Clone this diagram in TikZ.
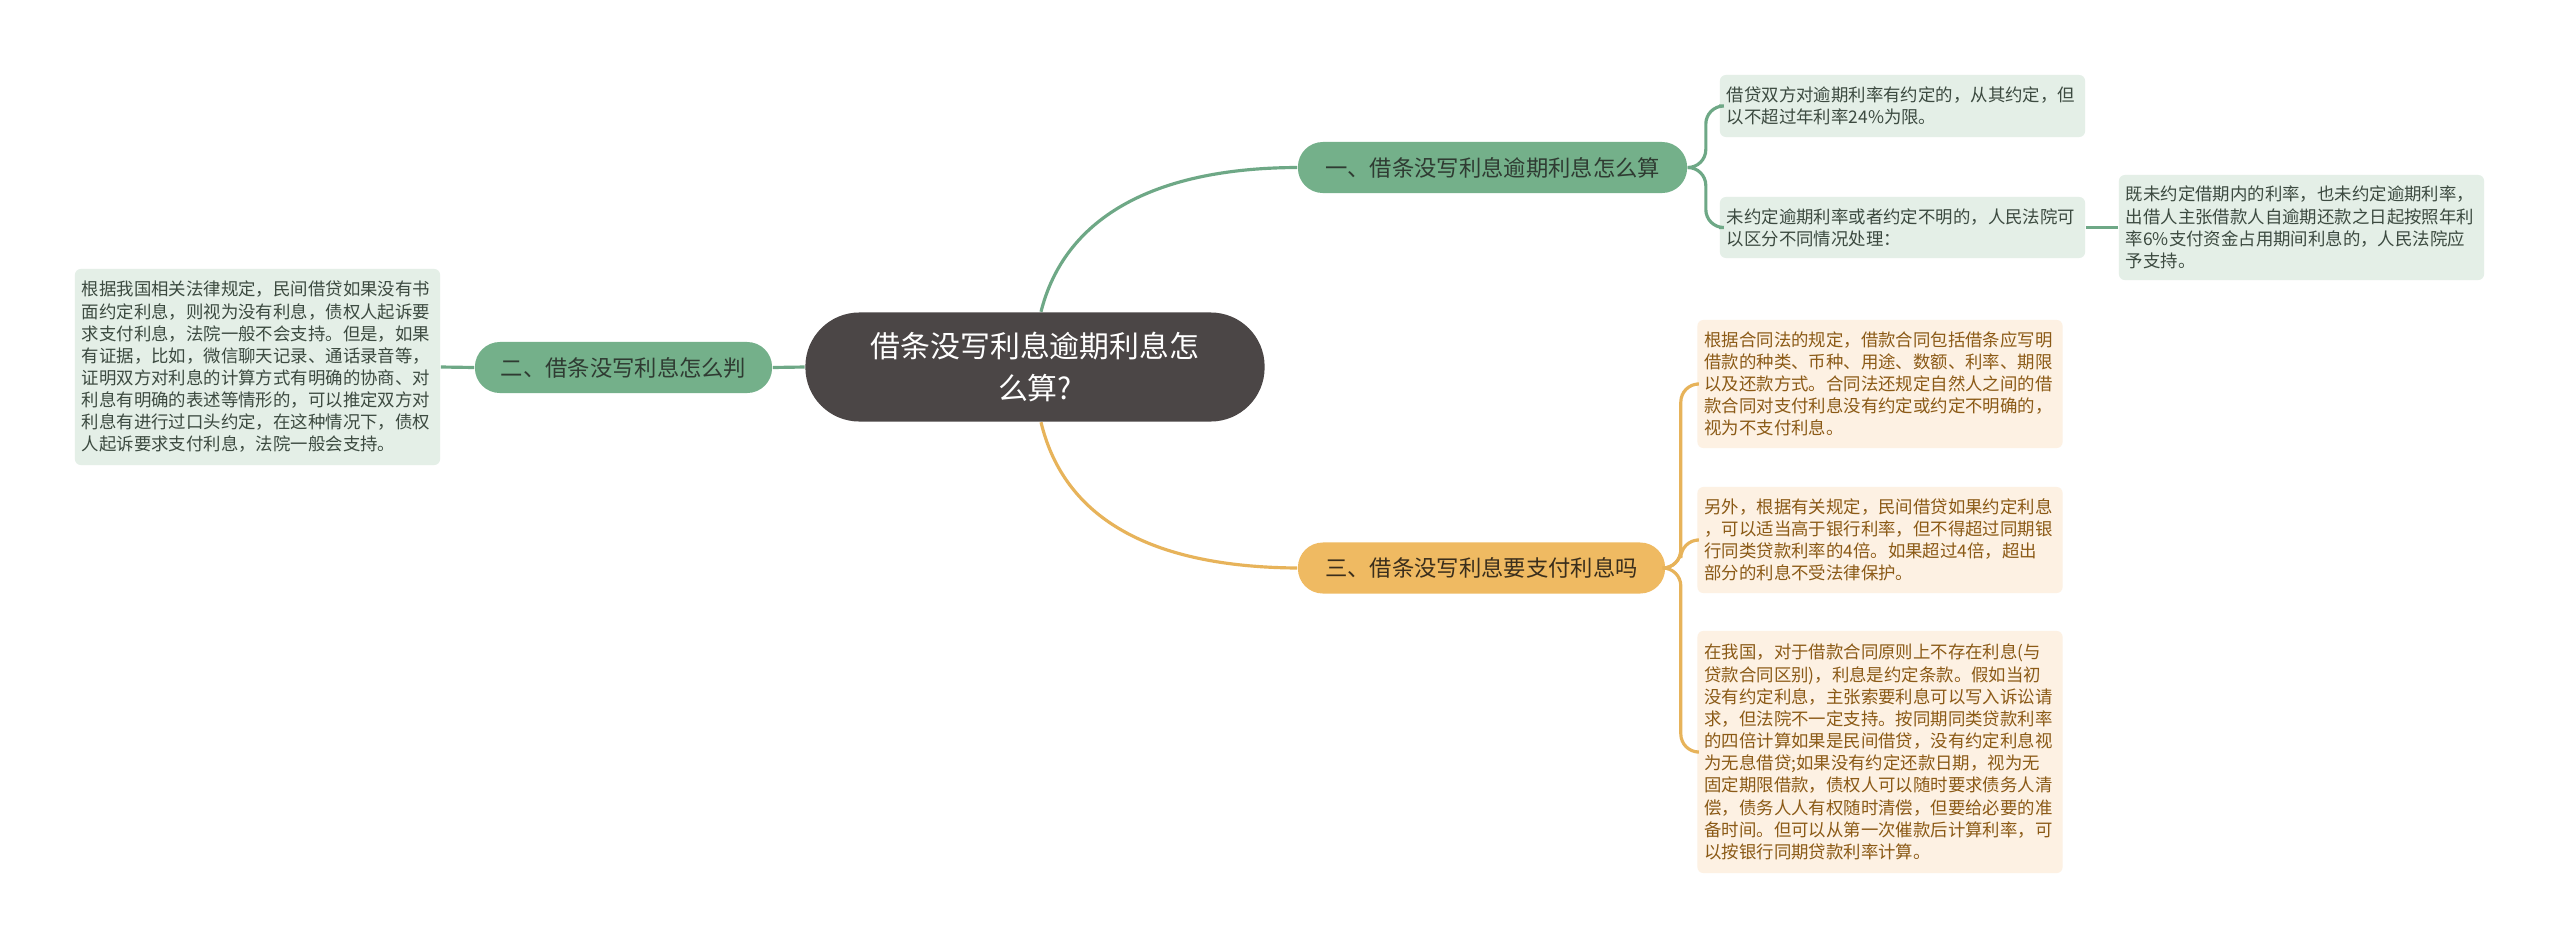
\documentclass[tikz,border=0pt]{standalone}
\usepackage{fontspec}
\setmainfont{Noto Sans CJK SC}
\usepackage{xcolor}
\usetikzlibrary{positioning,calc}

\definecolor{rootgray}{HTML}{4B4646}
\definecolor{branchgreen}{HTML}{74B08A}
\definecolor{branchorange}{HTML}{EFBA62}
\definecolor{linegreen}{HTML}{6EA886}
\definecolor{lineorange}{HTML}{E7B35A}
\definecolor{leafgreen}{HTML}{E4EFE7}
\definecolor{leaforange}{HTML}{FDF1E3}
\definecolor{greentext}{HTML}{2F3B32}
\definecolor{orangetext}{HTML}{3A2E1C}
\definecolor{leafgreentext}{HTML}{3C4A40}
\definecolor{leaforangetext}{HTML}{8B5A16}

\begin{document}
\begin{tikzpicture}[x=0.01cm, y=-0.01cm,
  rootbox/.style={fill=rootgray, text=white, rounded corners=0.54cm, minimum width=4.59cm,
    minimum height=1.09cm, inner sep=0pt, align=center, font=\fontsize{8.5pt}{11.9pt}\selectfont},
  pill/.style={rounded corners=0.25cm, minimum height=0.51cm, inner sep=0pt,
    font=\fontsize{6.35pt}{7pt}\selectfont},
  greenpill/.style={pill, fill=branchgreen, text=greentext},
  orangepill/.style={pill, fill=branchorange, text=orangetext},
  leaf/.style={rounded corners=0.06cm, inner xsep=0.07cm, inner ysep=0pt, align=left,
    text width=3.51cm, font=\fontsize{4.95pt}{6.3pt}\selectfont},
  gleaf/.style={leaf, fill=leafgreen, text=leafgreentext},
  oleaf/.style={leaf, fill=leaforange, text=leaforangetext},
  gline/.style={draw=linegreen, line width=0.9pt},
  oline/.style={draw=lineorange, line width=0.9pt}]
  \useasboundingbox[fill=white] (0,0) rectangle (2560,948);

  % centre and branches
  \node[rootbox] (root) at (1035,367) {借条没写利息逾期利息怎\\么算?};
  \node[greenpill, minimum width=3.89cm] (b1) at (1492.5,167.5) {一、借条没写利息逾期利息怎么算};
  \node[greenpill, minimum width=2.97cm] (b2) at (623.5,367.5) {二、借条没写利息怎么判};
  \node[orangepill, minimum width=3.67cm] (b3) at (1481.5,568) {三、借条没写利息要支付利息吗};

  % leaves
  \node[gleaf, minimum height=0.62cm] (l1a) at (1902.5,106) {借贷双方对逾期利率有约定的，从其约定，但\\以不超过年利率24\%为限。};
  \node[gleaf, minimum height=0.61cm] (l1b) at (1902.5,227.5) {未约定逾期利率或者约定不明的，人民法院可\\以区分不同情况处理：};
  \node[gleaf, minimum height=1.05cm] (l1c) at (2301.5,227.5) {既未约定借期内的利率，也未约定逾期利率，\\出借人主张借款人自逾期还款之日起按照年利\\率6\%支付资金占用期间利息的，人民法院应\\予支持。};
  \node[gleaf, minimum height=1.96cm] (l2) at (257.5,367) {根据我国相关法律规定，民间借贷如果没有书\\面约定利息，则视为没有利息，债权人起诉要\\求支付利息，法院一般不会支持。但是，如果\\有证据，比如，微信聊天记录、通话录音等，\\证明双方对利息的计算方式有明确的协商、对\\利息有明确的表述等情形的，可以推定双方对\\利息有进行过口头约定，在这种情况下，债权\\人起诉要求支付利息，法院一般会支持。};
  \node[oleaf, minimum height=1.28cm] (l3a) at (1880,384) {根据合同法的规定，借款合同包括借条应写明\\借款的种类、币种、用途、数额、利率、期限\\以及还款方式。合同法还规定自然人之间的借\\款合同对支付利息没有约定或约定不明确的，\\视为不支付利息。};
  \node[oleaf, minimum height=1.06cm] (l3b) at (1880,540) {另外，根据有关规定，民间借贷如果约定利息\\，可以适当高于银行利率，但不得超过同期银\\行同类贷款利率的4倍。如果超过4倍，超出\\部分的利息不受法律保护。};
  \node[oleaf, minimum height=2.42cm] (l3c) at (1880,752) {在我国，对于借款合同原则上不存在利息(与\\贷款合同区别)，利息是约定条款。假如当初\\没有约定利息，主张索要利息可以写入诉讼请\\求，但法院不一定支持。按同期同类贷款利率\\的四倍计算如果是民间借贷，没有约定利息视\\为无息借贷;如果没有约定还款日期，视为无\\固定期限借款，债权人可以随时要求债务人清\\偿，债务人人有权随时清偿，但要给必要的准\\备时间。但可以从第一次催款后计算利率，可\\以按银行同期贷款利率计算。};

  % connectors
  \draw[gline] ($(root.north)+(6,0)$) .. controls (1064,220) and (1150,168) .. (b1.west);
  \draw[gline] (root.west) -- (b2.east);
  \draw[oline] ($(root.south)+(6,0)$) .. controls (1064,518) and (1150,567) .. (b3.west);
  \draw[gline] (b2.west) -- (l2.east);
  \draw[gline, rounded corners=0.18cm] (b1.east) -- ++(18,0) |- (l1a.west);
  \draw[gline, rounded corners=0.18cm] (b1.east) -- ++(18,0) |- (l1b.west);
  \draw[gline] (l1b.east) -- (l1c.west);
  \draw[oline, rounded corners=0.18cm] (b3.east) -- ++(15,0) |- (l3a.west);
  \draw[oline, rounded corners=0.18cm] (b3.east) -- ++(15,0) |- (l3b.west);
  \draw[oline, rounded corners=0.18cm] (b3.east) -- ++(15,0) |- (l3c.west);
\end{tikzpicture}
\end{document}
